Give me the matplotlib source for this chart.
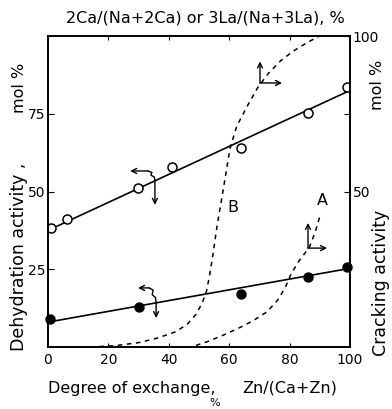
import matplotlib
import matplotlib.pyplot as plt
import numpy as np

matplotlib.use("Agg")

# dehydration activity (left axis), open: Ca-Zn series, filled: second series
open_x = [1, 6.3, 29.8, 41, 64, 86, 99]
open_y = [38.3, 41.2, 51.1, 57.9, 64, 75.2, 83.6]
open_fit_x = [0, 100]
open_fit_y = [37.5, 82.5]

filled_x = [0.7, 30, 64, 86, 99]
filled_y = [9, 12.9, 17, 22.5, 25.7]
filled_fit_x = [0, 100]
filled_fit_y = [8, 25.3]

# cracking activity (right axis), dashed curves A and B
curve_b_x = [14, 22, 30, 36, 42, 46, 49, 51, 52.5, 53.5, 54.5, 56, 58, 60.3,
             62.5, 66, 69.5, 73, 77, 81, 86, 90]
curve_b_y = [0, 0.4, 1.4, 2.8, 4.8, 7.2, 10.5, 14, 18, 23, 29, 39, 50.5, 64,
             71, 77.5, 83.5, 88, 92, 95, 98, 100]
curve_a_x = [49, 53, 58, 63, 68, 72.5, 76, 78.5, 80.5, 83, 86.5, 88.5, 90]
curve_a_y = [0.5, 1.8, 3.8, 6, 8.5, 11.3, 15, 19, 23.5, 27.5, 32, 37, 42]

x_ticks = [0, 20, 40, 60, 80, 100]
left_ticks = [25, 50, 75]
right_ticks = [25, 50, 75, 100]
right_labels = ["", "50", "", "100"]

plt.rcParams["font.family"] = "DejaVu Sans"

fig = plt.figure(figsize=(3.92, 4.09), dpi=100)
ax = fig.add_axes([48 / 392, 62 / 409, 302 / 392, 311 / 409])
ax2 = ax.twinx()

ax.plot(open_fit_x, open_fit_y, color="black", lw=1.2)
ax.plot(open_x, open_y, "o", mfc="white", mec="black", ms=6.5, mew=1.1)
ax.plot(filled_fit_x, filled_fit_y, color="black", lw=1.2)
ax.plot(filled_x, filled_y, "o", color="black", ms=6.5, clip_on=False)

ax2.plot(curve_b_x, curve_b_y, color="black", lw=1.1, ls=(0, (3, 3)))
ax2.plot(curve_a_x, curve_a_y, color="black", lw=1.1, ls=(0, (3, 3)))
ax2.text(61.3, 45, "B", fontsize=11.5, ha="center", va="center")
ax2.text(91, 47, "A", fontsize=11.5, ha="center", va="center")

arrow = dict(arrowstyle="->", color="black", lw=1.0, shrinkA=0, shrinkB=0,
             mutation_scale=9)

# "read on the right axis" markers
for cx, cy, up, right in [(70.2, 84.9, 91.8, 77.5), (86.1, 31.8, 39.9, 92.4)]:
    ax2.annotate("", xy=(cx, up), xytext=(cx, cy), arrowprops=arrow)
    ax2.annotate("", xy=(right, cy), xytext=(cx, cy), arrowprops=arrow)

# "read on the left axis" markers with a wiggle
for cx, cy, down, tipx, wig in [(35.4, 53.6, 45.7, 27.2, 3.0),
                                (35.8, 14.2, 9.3, 29.8, 4.8)]:
    ax.annotate("", xy=(cx, down), xytext=(cx, cy), arrowprops=arrow)
    wx = [cx, cx - 0.2, cx - 1.3, cx - 1.0, cx - 2.3]
    wy = [cy, cy + wig * 0.35, cy + wig * 0.55, cy + wig * 0.85, cy + wig]
    ax.plot(wx, wy, color="black", lw=1.0)
    ax.annotate("", xy=(tipx, cy + wig), xytext=(cx - 2.3, cy + wig),
                arrowprops=arrow)

ax.set_xlim(0, 100)
ax.set_ylim(0, 100)
ax2.set_ylim(0, 100)

ax.set_xticks(x_ticks)
ax.set_xticklabels([str(t) for t in x_ticks], fontsize=10)
ax.set_yticks(left_ticks)
ax.set_yticklabels([str(t) for t in left_ticks], fontsize=10)
ax2.set_yticks(right_ticks)
ax2.set_yticklabels(right_labels, fontsize=10)

ax.tick_params(axis="x", direction="in", length=3, pad=4, top=True)
ax.tick_params(axis="y", direction="in", length=4, pad=2)
ax2.tick_params(axis="y", direction="in", length=4, pad=2)

for a in (ax, ax2):
    for s in a.spines.values():
        s.set_linewidth(1.2)

fig.text(205 / 392, 1 - 18 / 409, "2Ca/(Na+2Ca) or 3La/(Na+3La), %",
         fontsize=11.5, ha="center", va="center")
fig.text(48 / 392, 1 - 388 / 409, "Degree of exchange,",
         fontsize=11.5, ha="left", va="center")
fig.text(242 / 392, 1 - 388 / 409, "Zn/(Ca+Zn)",
         fontsize=11.5, ha="left", va="center")
fig.text(215 / 392, 1 - 403 / 409, "%", fontsize=8, ha="center", va="center")
fig.text(19 / 392, 1 - 257 / 409, "Dehydration activity ,", fontsize=12.5,
         rotation=90, ha="center", va="center")
fig.text(19 / 392, 1 - 88 / 409, "mol %", fontsize=11.5,
         rotation=90, ha="center", va="center")
fig.text(381 / 392, 1 - 283 / 409, "Cracking activity", fontsize=12.5,
         rotation=90, ha="center", va="center")
fig.text(377 / 392, 1 - 85 / 409, "mol %", fontsize=11.5,
         rotation=90, ha="center", va="center")

fig.savefig("out.png", dpi=100)
